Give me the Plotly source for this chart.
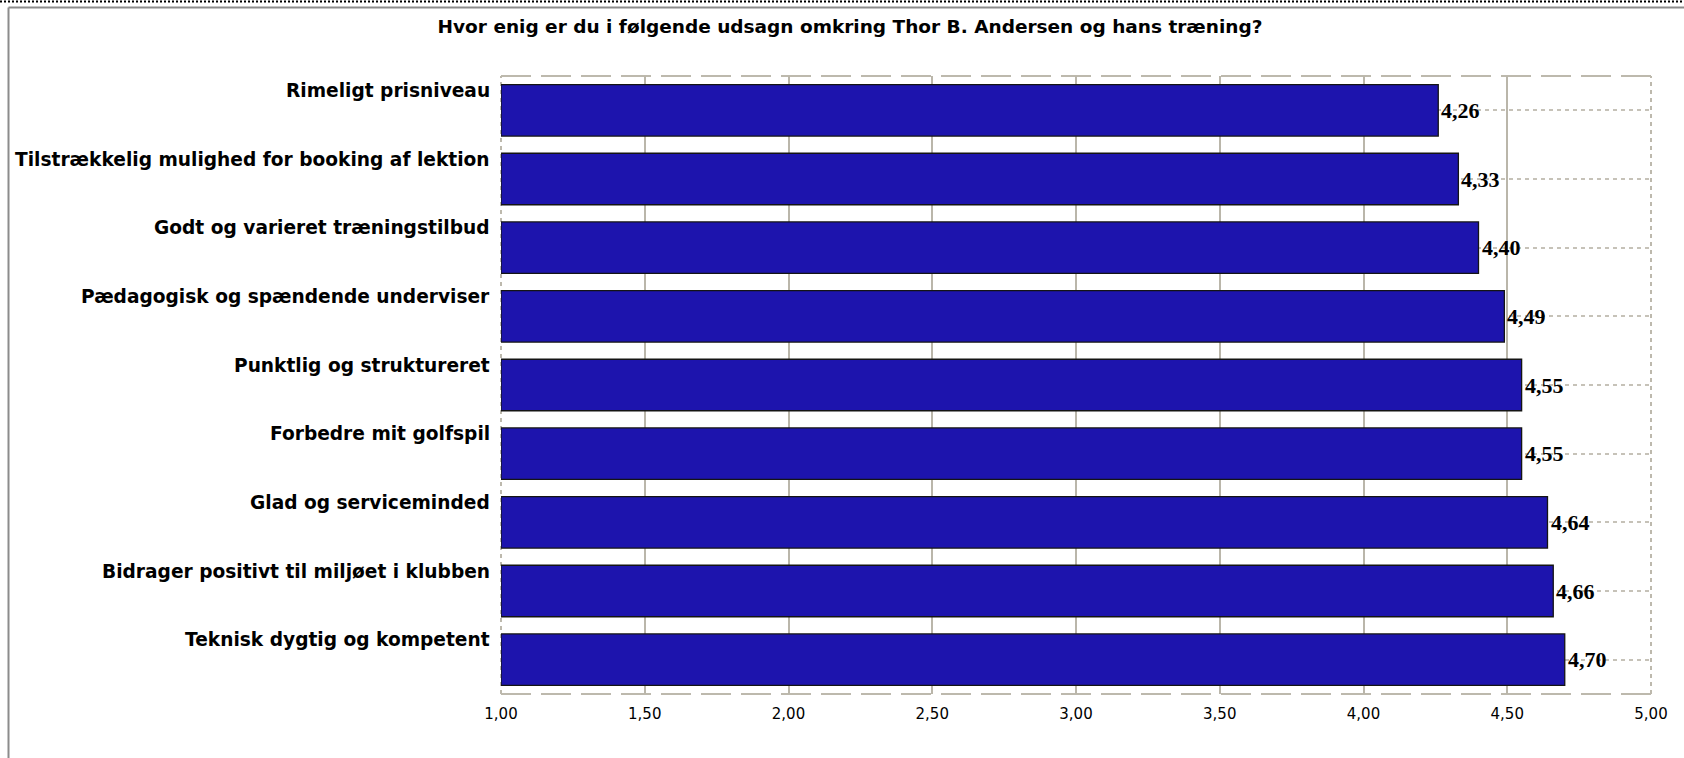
import plotly.graph_objects as go

title_text = "Hvor enig er du i følgende udsagn omkring Thor B. Andersen og hans træning?"
categories = [
    "Rimeligt prisniveau",
    "Tilstrækkelig mulighed for booking af lektion",
    "Godt og varieret træningstilbud",
    "Pædagogisk og spændende underviser",
    "Punktlig og struktureret",
    "Forbedre mit golfspil",
    "Glad og serviceminded",
    "Bidrager positivt til miljøet i klubben",
    "Teknisk dygtig og kompetent",
]
values = [4.26, 4.33, 4.40, 4.49, 4.55, 4.55, 4.64, 4.66, 4.70]
x_ticks = [1.0, 1.5, 2.0, 2.5, 3.0, 3.5, 4.0, 4.5, 5.0]
x_range = [1.0, 5.0]

W_PX, H_PX = 1684, 758
M_L, M_R, M_T, M_B = 501, 33, 76, 64
PW = W_PX - M_L - M_R
PH = H_PX - M_T - M_B

def px_x(px):
    return (px - M_L) / PW

def px_y(py):
    return (H_PX - M_B - py) / PH

GRID = "#bab6aa"
BORDER = "#bdb9ad"

fig = go.Figure()
fig.add_trace(go.Bar(
    x=[v - x_range[0] for v in values],
    base=x_range[0],
    y=categories,
    orientation="h",
    marker=dict(color="#1d14ad", line=dict(color="#141414", width=1.3)),
    hoverinfo="skip",
))

annotations = []
for c, v in zip(categories, values):
    annotations.append(dict(
        x=v, y=c, xref="x", yref="y", xanchor="left", yanchor="middle",
        text=f"{v:.2f}".replace(".", ","), showarrow=False, xshift=1,
        font=dict(family="Liberation Serif", size=22, color="#000000", weight="bold"),
    ))
    annotations.append(dict(
        x=0, y=c, xref="paper", yref="y", xanchor="right", yanchor="middle",
        text=c, showarrow=False, xshift=-9, yshift=20,
        font=dict(family="DejaVu Sans", size=18.6, color="#000000", weight="bold"),
    ))

shapes = []
# mask the edge grid lines, then draw the plot-area border
for xv in x_range:
    shapes.append(dict(type="line", xref="x", yref="paper", x0=xv, x1=xv, y0=0, y1=1,
                       line=dict(color="white", width=3), layer="between"))
for yv in [0, 1]:
    shapes.append(dict(type="line", xref="paper", yref="paper", x0=0, x1=1, y0=yv, y1=yv,
                       line=dict(color=BORDER, width=2, dash="30px,10px"), layer="between"))
for xv in [0, 1]:
    shapes.append(dict(type="line", xref="paper", yref="paper", x0=xv, x1=xv, y0=0, y1=1,
                       line=dict(color=BORDER, width=2, dash="4px,4px"), layer="between"))
# outer frame
shapes.append(dict(type="line", xref="paper", yref="paper", x0=px_x(0), x1=px_x(W_PX),
                   y0=px_y(1.5), y1=px_y(1.5), line=dict(color="#000000", width=2, dash="2px,2px")))
shapes.append(dict(type="line", xref="paper", yref="paper", x0=px_x(8.5), x1=px_x(W_PX),
                   y0=px_y(7.5), y1=px_y(7.5), line=dict(color="#8c8c8c", width=2)))
shapes.append(dict(type="line", xref="paper", yref="paper", x0=px_x(8.5), x1=px_x(8.5),
                   y0=px_y(7.5), y1=px_y(H_PX), line=dict(color="#8c8c8c", width=2)))

fig.update_layout(
    width=W_PX, height=H_PX,
    margin=dict(l=M_L, r=M_R, t=M_T, b=M_B, pad=0),
    paper_bgcolor="white", plot_bgcolor="white",
    bargap=0.25, showlegend=False, hovermode=False,
    separators=",.",
    title=dict(text=title_text, x=850 / W_PX, xref="container", xanchor="center",
               y=1 - 27 / H_PX, yref="container", yanchor="middle",
               font=dict(family="DejaVu Sans", size=18.5, color="#000000", weight="bold")),
    xaxis=dict(range=x_range, tickmode="array", tickvals=x_ticks, tickformat=".2f",
               showgrid=True, gridcolor=GRID, gridwidth=1.5, zeroline=False, showline=False,
               ticks="", ticklabelstandoff=9,
               tickfont=dict(family="DejaVu Sans", size=15, color="#000000")),
    yaxis=dict(type="category", categoryorder="array", categoryarray=categories,
               autorange="reversed", showticklabels=False, ticks="",
               showgrid=True, gridcolor="#c6c2b8", gridwidth=1.5, griddash="4px,4px",
               zeroline=False, showline=False),
    annotations=annotations,
    shapes=shapes,
)

fig.write_html(
    "out.html",
    config={"displayModeBar": False},
    post_script="document.body.style.margin='0';document.documentElement.style.overflow='hidden';",
)
